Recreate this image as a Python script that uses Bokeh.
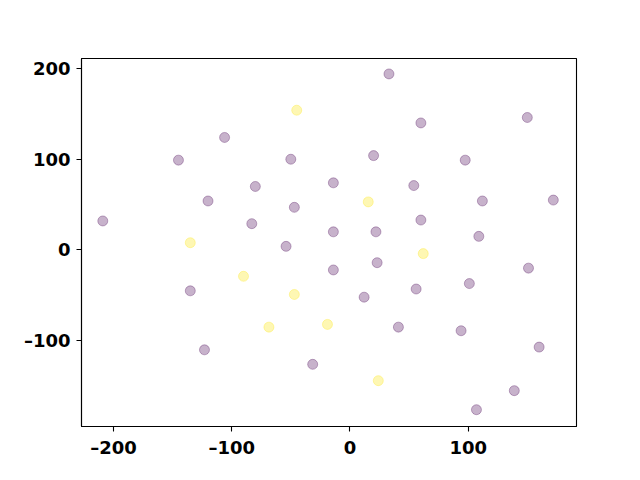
from bokeh.plotting import figure
from bokeh.models import Range1d, FixedTicker
from bokeh.embed import file_html
from bokeh.resources import INLINE

purple_x = [-106, -145, -50, -80, -120, -47, -209, -83, -54,
            33, 60, 150, 20, 97.5, -14, 54, 112, 172, 60, -14, 22, 109,
            -135, -123, -31.5,
            151, -14, 23, 101, 12, 56, 41, 94, 160, 139, 107]
purple_y = [124, 99, 100, 70, 54, 47, 32, 29, 4,
            194, 140, 146, 104, 99, 74, 71, 54, 55, 33, 20, 20, 15,
            -45, -110, -126,
            -20, -22, -14, -37, -52, -43, -85, -89, -107, -155, -176]
yellow_x = [-45, -135, 15.5, -90, -47, -68.5, -19, 62, 24]
yellow_y = [154, 8, 53, -29, -49, -85, -82, -4, -144]

x_ticks = [-200, -100, 0, 100]
y_ticks = [-100, 0, 100, 200]

p = figure(width=632, height=472, output_backend="svg", toolbar_location=None,
           x_range=Range1d(-227, 191.6), y_range=Range1d(-194.5, 211),
           min_border_left=81, min_border_right=56, min_border_top=58, min_border_bottom=46)
p.background_fill_color = "white"
p.border_fill_color = "white"
p.outline_line_color = "black"
p.outline_line_width = 1.1
p.xgrid.visible = False
p.ygrid.visible = False

p.scatter(purple_x, purple_y, size=10, fill_color="#440154", fill_alpha=0.3,
          line_color="#440154", line_alpha=0.3, line_width=1)
p.scatter(yellow_x, yellow_y, size=10, fill_color="#fde725", fill_alpha=0.35,
          line_color="#fde725", line_alpha=0.35, line_width=1)

def fmt(v):
    return ("\u2013" + str(-v)) if v < 0 else str(v)

for ax, ticks in ((p.xaxis[0], x_ticks), (p.yaxis[0], y_ticks)):
    ax.ticker = FixedTicker(ticks=ticks)
    ax.major_label_overrides = {t: fmt(t) for t in ticks}
    ax.minor_tick_line_color = None
    ax.major_tick_in = 0
    ax.major_tick_out = 5
    ax.major_tick_line_width = 1.1
    ax.axis_line_width = 1.1
    ax.major_label_text_font = "DejaVu Sans"
    ax.major_label_text_font_style = "bold"
    ax.major_label_text_font_size = "18px"
    ax.major_label_text_color = "black"
p.xaxis[0].major_label_standoff = 5
p.yaxis[0].major_label_standoff = 6

open("out.html", "w").write(file_html(p, INLINE))
